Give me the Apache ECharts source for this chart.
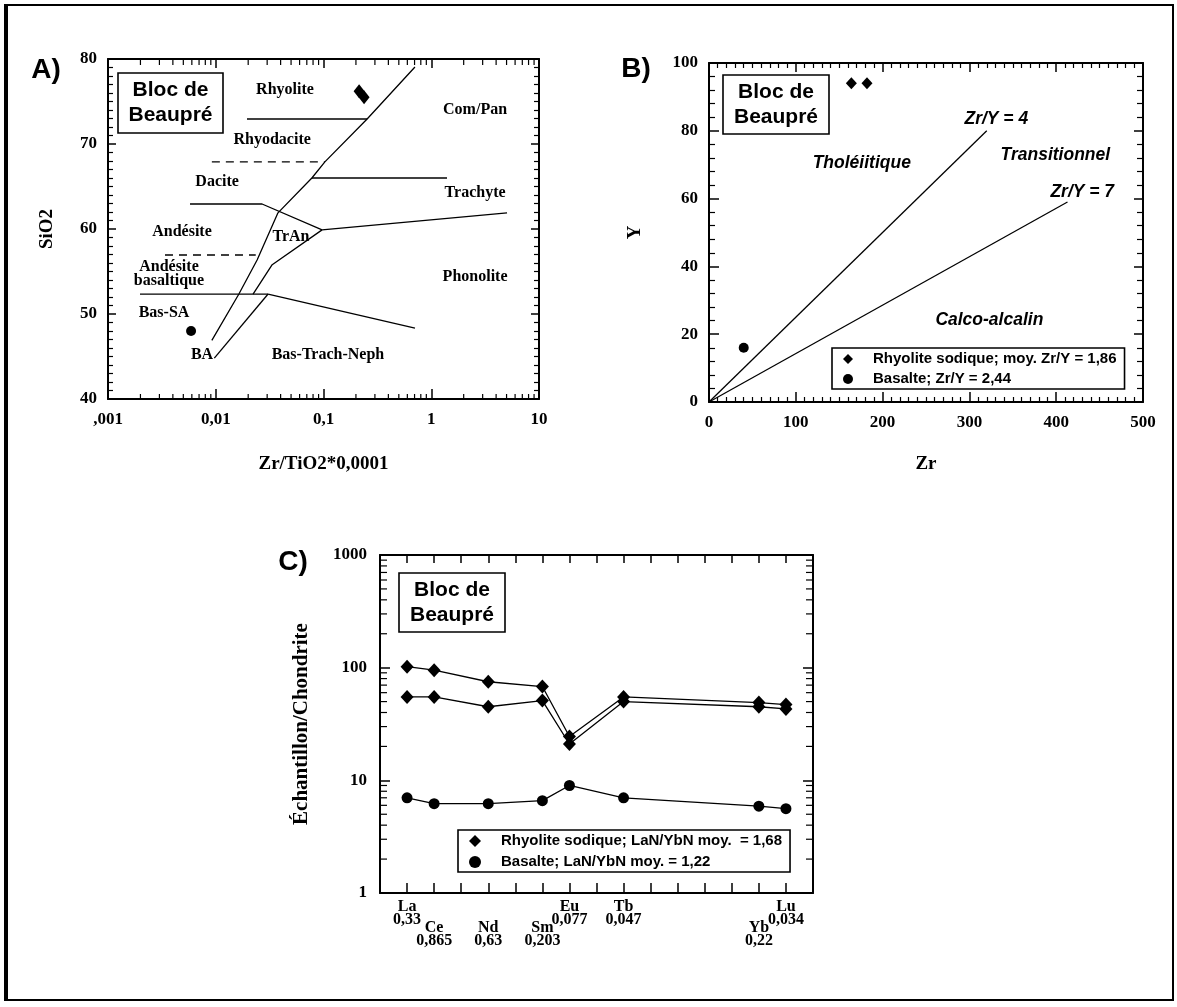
<!DOCTYPE html>
<html><head><meta charset="utf-8">
<script src="https://cdn.jsdelivr.net/npm/echarts@6/dist/echarts.min.js"></script>
<style>html,body{margin:0;padding:0;background:#fff}#c{width:1177px;height:1007px}</style>
</head><body><div id="c"></div>
<script>
// ================= Panel A : SiO2 vs Zr/TiO2*0.0001 =================
const aXTickLabels = [',001', '0,01', '0,1', '1', '10'];
const aRhyoliteZrTiO2 = [0.214, 0.238];
const aRhyoliteSiO2 = [76.2, 75.5];
const aBasaltZrTiO2 = [0.0059];
const aBasaltSiO2 = [48.0];
// field boundaries: [Zr/TiO2*0.0001, SiO2]
const aLineSubalkaline = [[0.0092, 46.9], [0.0164, 52.35], [0.0242, 56.35], [0.0378, 61.9], [0.078, 66.0], [0.103, 67.9], [0.254, 72.94], [0.706, 79.06]];
const aLineTrAnLeft = [[0.0222, 52.35], [0.0334, 55.8], [0.097, 59.9]];
const aLineBA = [[0.0097, 44.8], [0.0306, 52.35]];
const aLineBasSA = [[0.00198, 52.35], [0.0306, 52.35]];
const aLineBasTrachNeph = [[0.0306, 52.35], [0.706, 48.35]];
const aLineDacite = [[0.00577, 62.94], [0.0269, 62.94], [0.097, 59.9]];
const aLineTrachytePhonolite = [[0.097, 59.9], [5.05, 61.9]];
const aLineTrachyte = [[0.078, 66.0], [1.4, 66.0]];
const aLineRhyolite = [[0.0195, 72.94], [0.254, 72.94]];
const aDashRhyodacite = [[0.0092, 67.9], [0.103, 67.9]];
const aDashAndesite = [[0.00338, 56.94], [0.0235, 56.94]];
const aFieldNames = ['Rhyolite', 'Com/Pan', 'Rhyodacite', 'Dacite', 'Trachyte', 'Andésite', 'TrAn', 'Andésite\nbasaltique', 'Bas-SA', 'BA', 'Bas-Trach-Neph', 'Phonolite'];
const aFieldX = [0.0439, 2.55, 0.0334, 0.0103, 2.55, 0.00486, 0.0499, 0.00368, 0.00331, 0.00746, 0.110, 2.55];
const aFieldY = [76.35, 74.0, 70.47, 65.53, 64.24, 59.65, 59.06, 54.7, 50.12, 45.18, 45.18, 54.35];

// ================= Panel B : Y vs Zr =================
const bRhyoliteZr = [164, 182];
const bRhyoliteY = [94, 94];
const bBasaltZr = [40];
const bBasaltY = [16];
const bLineZrY4 = [[0, 0], [320, 80]];
const bLineZrY7 = [[0, 0], [413, 59]];
const bFieldNames = ['Tholéiitique', 'Zr/Y = 4', 'Transitionnel', 'Zr/Y = 7', 'Calco-alcalin'];
const bFieldZr = [176, 331, 399, 430, 323];
const bFieldY = [70.5, 83.5, 72.9, 61.9, 24.2];
const bRhyName = 'Rhyolite sodique; moy. Zr/Y = 1,86';
const bBasName = 'Basalte; Zr/Y = 2,44';

// ================= Panel C : REE / chondrite =================
const reeOrder = ['La', 'Ce', 'Pr', 'Nd', 'Pm', 'Sm', 'Eu', 'Gd', 'Tb', 'Dy', 'Ho', 'Er', 'Tm', 'Yb', 'Lu'];
const cElements = ['La', 'Ce', 'Nd', 'Sm', 'Eu', 'Tb', 'Yb', 'Lu'];
const cChondrite = ['0,33', '0,865', '0,63', '0,203', '0,077', '0,047', '0,22', '0,034'];
const cLowerRow = ['Ce', 'Nd', 'Sm', 'Yb'];
const cRhyoliteA = [102, 95, 75, 68, 24.5, 55, 49, 47];
const cRhyoliteB = [55, 55, 45, 51, 21, 50, 45, 43];
const cBasalt = [7.0, 6.2, 6.2, 6.6, 9.0, 7.0, 5.9, 5.6];
const cRhyName = 'Rhyolite sodique; LaN/YbN moy.  = 1,68';
const cBasName = 'Basalte; LaN/YbN moy. = 1,22';

// ---------------------------------------------------------------
const serif = 'Liberation Serif';
const sans = 'Liberation Sans';
const chart = echarts.init(document.getElementById('c'), null, {renderer: 'canvas'});

const axLine = {show: true, onZero: false, lineStyle: {color: '#000', width: 2}};
function tick(len) { return {show: true, inside: true, length: len, lineStyle: {color: '#000', width: 1.5}}; }
function minor(n, len) { return {show: true, splitNumber: n, length: len, lineStyle: {color: '#000', width: 1.2}}; }
const tickLabel = {color: '#000', fontFamily: serif, fontWeight: 'bold', fontSize: 17};
const nameStyle = {color: '#000', fontFamily: serif, fontWeight: 'bold', fontSize: 19};
const noLabel = {show: false};
const noSplit = {show: false};
const solidBlack = {color: '#000', opacity: 1};

function logLabel(v) {
  const e = Math.round(Math.log10(v));
  return aXTickLabels[e + 3] !== undefined ? aXTickLabels[e + 3] : '';
}
function cX(el) { return reeOrder.indexOf(el) + 1; }
function cLabel(lower) {
  return function (v) {
    const el = reeOrder[Math.round(v) - 1];
    const i = cElements.indexOf(el);
    if (i < 0) return '';
    const isLower = cLowerRow.indexOf(el) >= 0;
    if (isLower !== lower) return '';
    return el + '\n' + cChondrite[i];
  };
}

function decadeMinors(decades) {
  const out = [];
  decades.forEach(d => { for (let k = 2; k <= 9; k++) out.push(k * d); });
  return out;
}
function logMinorX(xi, yi, vals, yMin, yMax, lb, lt) {
  return {
    type: 'custom', xAxisIndex: xi, yAxisIndex: yi, silent: true, clip: false, z: 5,
    data: vals.map(v => [v, yMin]), encode: {x: 0, y: 1},
    renderItem: (p, api) => {
      const b = api.coord([api.value(0), yMin]);
      const t = api.coord([api.value(0), yMax]);
      return {type: 'group', children: [
        {type: 'line', shape: {x1: b[0], y1: b[1], x2: b[0], y2: b[1] - lb}, style: {stroke: '#000', lineWidth: 1.2}},
        {type: 'line', shape: {x1: t[0], y1: t[1], x2: t[0], y2: t[1] + lt}, style: {stroke: '#000', lineWidth: 1.2}}
      ]};
    }
  };
}
function logMinorY(xi, yi, vals, xMin, xMax, ll, lr) {
  return {
    type: 'custom', xAxisIndex: xi, yAxisIndex: yi, silent: true, clip: false, z: 5,
    data: vals.map(v => [xMin, v]), encode: {x: 0, y: 1},
    renderItem: (p, api) => {
      const l = api.coord([xMin, api.value(1)]);
      const r = api.coord([xMax, api.value(1)]);
      return {type: 'group', children: [
        {type: 'line', shape: {x1: l[0], y1: l[1], x2: l[0] + ll, y2: l[1]}, style: {stroke: '#000', lineWidth: 1.2}},
        {type: 'line', shape: {x1: r[0], y1: r[1], x2: r[0] - lr, y2: r[1]}, style: {stroke: '#000', lineWidth: 1.2}}
      ]};
    }
  };
}
function boundary(data, dashed) {
  return {type: 'line', xAxisIndex: 0, yAxisIndex: 0, data: data, symbol: 'none', silent: true, z: 2,
    lineStyle: {color: '#000', width: 1.3, type: dashed ? [8, 6] : 'solid'}};
}
function zip(xs, ys) { return xs.map((x, i) => [x, ys[i]]); }
function fieldLabels(xi, yi, xs, ys, names, style) {
  return {type: 'scatter', xAxisIndex: xi, yAxisIndex: yi, silent: true, symbolSize: 0,
    itemStyle: solidBlack, z: 4,
    data: names.map((n, i) => ({name: n, value: [xs[i], ys[i]]})),
    label: Object.assign({show: true, position: 'inside', formatter: '{b}', color: '#000', opacity: 1,
      textBorderWidth: 0, textShadowBlur: 0}, style)};
}
function box(x, y, w, h) {
  return {type: 'group', children: [
    {type: 'rect', shape: {x: x, y: y, width: w, height: h}, style: {fill: '#fff', stroke: '#000', lineWidth: 1.6}, z: 10},
    {type: 'text', x: x + w / 2, y: y + h / 2, z: 11,
      style: {text: 'Bloc de\nBeaupré', fill: '#000', font: 'bold 21px "Liberation Sans"', align: 'center', verticalAlign: 'middle', lineHeight: 25}}
  ]};
}
function letter(txt, x, y) {
  return {type: 'text', x: x, y: y, style: {text: txt, fill: '#000', font: 'bold 28px "Liberation Sans"', align: 'center', verticalAlign: 'middle'}};
}

const option = {
  backgroundColor: '#fff',
  animation: false,
  grid: [
    {left: 108, top: 59, width: 431, height: 340, outerBoundsMode: 'none'},
    {left: 709, top: 63, width: 434, height: 339, outerBoundsMode: 'none'},
    {left: 380, top: 555, width: 433, height: 338, outerBoundsMode: 'none'}
  ],
  xAxis: [
    {type: 'log', logBase: 10, gridIndex: 0, min: 0.001, max: 10, position: 'bottom', axisLine: axLine, axisTick: tick(10),
      axisLabel: Object.assign({margin: 12, formatter: logLabel}, tickLabel), splitLine: noSplit,
      name: 'Zr/TiO2*0,0001', nameLocation: 'middle', nameGap: 56, nameTextStyle: nameStyle},
    {type: 'log', logBase: 10, gridIndex: 0, min: 0.001, max: 10, position: 'top', axisLine: axLine, axisTick: tick(9), axisLabel: noLabel, splitLine: noSplit},
    {type: 'value', gridIndex: 1, min: 0, max: 500, interval: 100, position: 'bottom', axisLine: axLine, axisTick: tick(10), minorTick: minor(10, 5),
      axisLabel: Object.assign({margin: 12, formatter: v => String(v)}, tickLabel), splitLine: noSplit,
      name: 'Zr', nameLocation: 'middle', nameGap: 53, nameTextStyle: nameStyle},
    {type: 'value', gridIndex: 1, min: 0, max: 500, interval: 100, position: 'top', axisLine: axLine, axisTick: tick(9), minorTick: minor(10, 5), axisLabel: noLabel, splitLine: noSplit},
    {type: 'value', gridIndex: 2, min: 0, max: 16, interval: 1, position: 'bottom', axisLine: axLine,
      axisTick: {show: true, inside: true, length: 10, lineStyle: {color: '#000', width: 1.5}},
      axisLabel: {show: true, margin: 7, formatter: cLabel(false), color: '#000', fontFamily: serif, fontWeight: 'bold', fontSize: 16, lineHeight: 13, interval: 0, showMinLabel: true, showMaxLabel: true},
      splitLine: noSplit},
    {type: 'value', gridIndex: 2, min: 0, max: 16, interval: 1, position: 'top', axisLine: axLine, axisTick: tick(8), axisLabel: noLabel, splitLine: noSplit},
    {type: 'value', gridIndex: 2, min: 0, max: 16, interval: 1, position: 'bottom', axisLine: {show: false}, axisTick: {show: false},
      axisLabel: {show: true, margin: 28, formatter: cLabel(true), color: '#000', fontFamily: serif, fontWeight: 'bold', fontSize: 16, lineHeight: 13, interval: 0},
      splitLine: noSplit}
  ],
  yAxis: [
    {type: 'value', gridIndex: 0, min: 40, max: 80, interval: 10, position: 'left', axisLine: axLine, axisTick: tick(8), minorTick: minor(10, 5),
      axisLabel: Object.assign({margin: 11}, tickLabel), splitLine: noSplit,
      name: 'SiO2', nameLocation: 'middle', nameRotate: 90, nameGap: 51, nameTextStyle: nameStyle},
    {type: 'value', gridIndex: 0, min: 40, max: 80, interval: 10, position: 'right', axisLine: axLine, axisTick: tick(8), minorTick: minor(10, 5), axisLabel: noLabel, splitLine: noSplit},
    {type: 'value', gridIndex: 1, min: 0, max: 100, interval: 20, position: 'left', axisLine: axLine, axisTick: tick(10), minorTick: minor(5, 6),
      axisLabel: Object.assign({margin: 11, formatter: v => String(v)}, tickLabel), splitLine: noSplit,
      name: 'Y', nameLocation: 'middle', nameRotate: 90, nameGap: 64, nameTextStyle: nameStyle},
    {type: 'value', gridIndex: 1, min: 0, max: 100, interval: 20, position: 'right', axisLine: axLine, axisTick: tick(9), minorTick: minor(5, 6), axisLabel: noLabel, splitLine: noSplit},
    {type: 'log', logBase: 10, gridIndex: 2, min: 1, max: 1000, position: 'left', axisLine: axLine, axisTick: tick(10),
      axisLabel: Object.assign({margin: 13, formatter: v => String(Math.round(v))}, tickLabel), splitLine: noSplit,
      name: 'Échantillon/Chondrite', nameLocation: 'middle', nameRotate: 90, nameGap: 68,
      nameTextStyle: Object.assign({}, nameStyle, {fontSize: 21})},
    {type: 'log', logBase: 10, gridIndex: 2, min: 1, max: 1000, position: 'right', axisLine: axLine, axisTick: tick(10), axisLabel: noLabel, splitLine: noSplit}
  ],
  legend: [
    {data: [{name: bRhyName, icon: 'diamond'}, {name: bBasName, icon: 'circle'}], orient: 'vertical', left: 832, top: 348,
      selectedMode: false, itemWidth: 10, itemHeight: 10, itemGap: 4, padding: [3, 8, 2, 11],
      borderColor: '#000', borderWidth: 1.6, backgroundColor: '#fff', itemStyle: {opacity: 1},
      textStyle: {color: '#000', fontFamily: sans, fontWeight: 'bold', fontSize: 15, lineHeight: 16, padding: [0, 0, 0, 15]}},
    {data: [{name: cRhyName, icon: 'diamond'}, {name: cBasName, icon: 'circle'}], orient: 'vertical', left: 458, top: 830,
      selectedMode: false, itemWidth: 12, itemHeight: 12, itemGap: 5, padding: [3, 8, 2, 11],
      borderColor: '#000', borderWidth: 1.6, backgroundColor: '#fff', itemStyle: {opacity: 1},
      textStyle: {color: '#000', fontFamily: sans, fontWeight: 'bold', fontSize: 15, lineHeight: 16, padding: [0, 0, 0, 15]}}
  ],
  series: [
    // Panel A
    boundary(aLineSubalkaline), boundary(aLineTrAnLeft), boundary(aLineBA), boundary(aLineBasSA),
    boundary(aLineBasTrachNeph), boundary(aLineDacite), boundary(aLineTrachytePhonolite),
    boundary(aLineTrachyte), boundary(aLineRhyolite),
    boundary(aDashRhyodacite, true), boundary(aDashAndesite, true),
    {type: 'scatter', name: 'A rhyolite', xAxisIndex: 0, yAxisIndex: 0, data: zip(aRhyoliteZrTiO2, aRhyoliteSiO2),
      symbol: 'diamond', symbolSize: [11, 14], itemStyle: solidBlack, z: 6},
    {type: 'scatter', name: 'A basalte', xAxisIndex: 0, yAxisIndex: 0, data: zip(aBasaltZrTiO2, aBasaltSiO2),
      symbol: 'circle', symbolSize: 10, itemStyle: solidBlack, z: 6},
    fieldLabels(0, 0, aFieldX, aFieldY, aFieldNames, {fontFamily: serif, fontWeight: 'bold', fontSize: 16, lineHeight: 14}),
    logMinorX(0, 0, decadeMinors([0.001, 0.01, 0.1, 1]), 40, 80, 5, 6),
    // Panel B
    {type: 'line', xAxisIndex: 2, yAxisIndex: 2, data: bLineZrY4, symbol: 'none', silent: true, lineStyle: {color: '#000', width: 1.3}},
    {type: 'line', xAxisIndex: 2, yAxisIndex: 2, data: bLineZrY7, symbol: 'none', silent: true, lineStyle: {color: '#000', width: 1.3}},
    {type: 'scatter', name: bRhyName, xAxisIndex: 2, yAxisIndex: 2, data: zip(bRhyoliteZr, bRhyoliteY),
      symbol: 'diamond', symbolSize: [11, 12], itemStyle: solidBlack, z: 6},
    {type: 'scatter', name: bBasName, xAxisIndex: 2, yAxisIndex: 2, data: zip(bBasaltZr, bBasaltY),
      symbol: 'circle', symbolSize: 10, itemStyle: solidBlack, z: 6},
    fieldLabels(2, 2, bFieldZr, bFieldY, bFieldNames, {fontFamily: sans, fontWeight: 'bold', fontStyle: 'italic', fontSize: 17.5}),
    // Panel C
    {type: 'line', name: cRhyName, xAxisIndex: 4, yAxisIndex: 4, data: zip(cElements.map(cX), cRhyoliteA),
      symbol: 'diamond', symbolSize: [13, 14], itemStyle: solidBlack, lineStyle: {color: '#000', width: 1.3}, z: 6},
    {type: 'line', name: cRhyName, xAxisIndex: 4, yAxisIndex: 4, data: zip(cElements.map(cX), cRhyoliteB),
      symbol: 'diamond', symbolSize: [13, 14], itemStyle: solidBlack, lineStyle: {color: '#000', width: 1.3}, z: 6},
    {type: 'line', name: cBasName, xAxisIndex: 4, yAxisIndex: 4, data: zip(cElements.map(cX), cBasalt),
      symbol: 'circle', symbolSize: 11, itemStyle: solidBlack, lineStyle: {color: '#000', width: 1.3}, z: 6},
    logMinorY(4, 4, decadeMinors([1, 10, 100]), 0, 16, 7, 7)
  ],
  graphic: [
    {type: 'rect', shape: {x: 5, y: 5, width: 1168, height: 995}, style: {fill: 'none', stroke: '#000', lineWidth: 2}},
    {type: 'line', shape: {x1: 6, y1: 5, x2: 6, y2: 1000}, style: {stroke: '#000', lineWidth: 4}},
    box(118, 73, 105, 60),
    box(723, 75, 106, 59),
    box(399, 573, 106, 59),
    letter('A)', 46, 70),
    letter('B)', 636, 69),
    letter('C)', 293, 562)
  ]
};
chart.setOption(option);
</script></body></html>
